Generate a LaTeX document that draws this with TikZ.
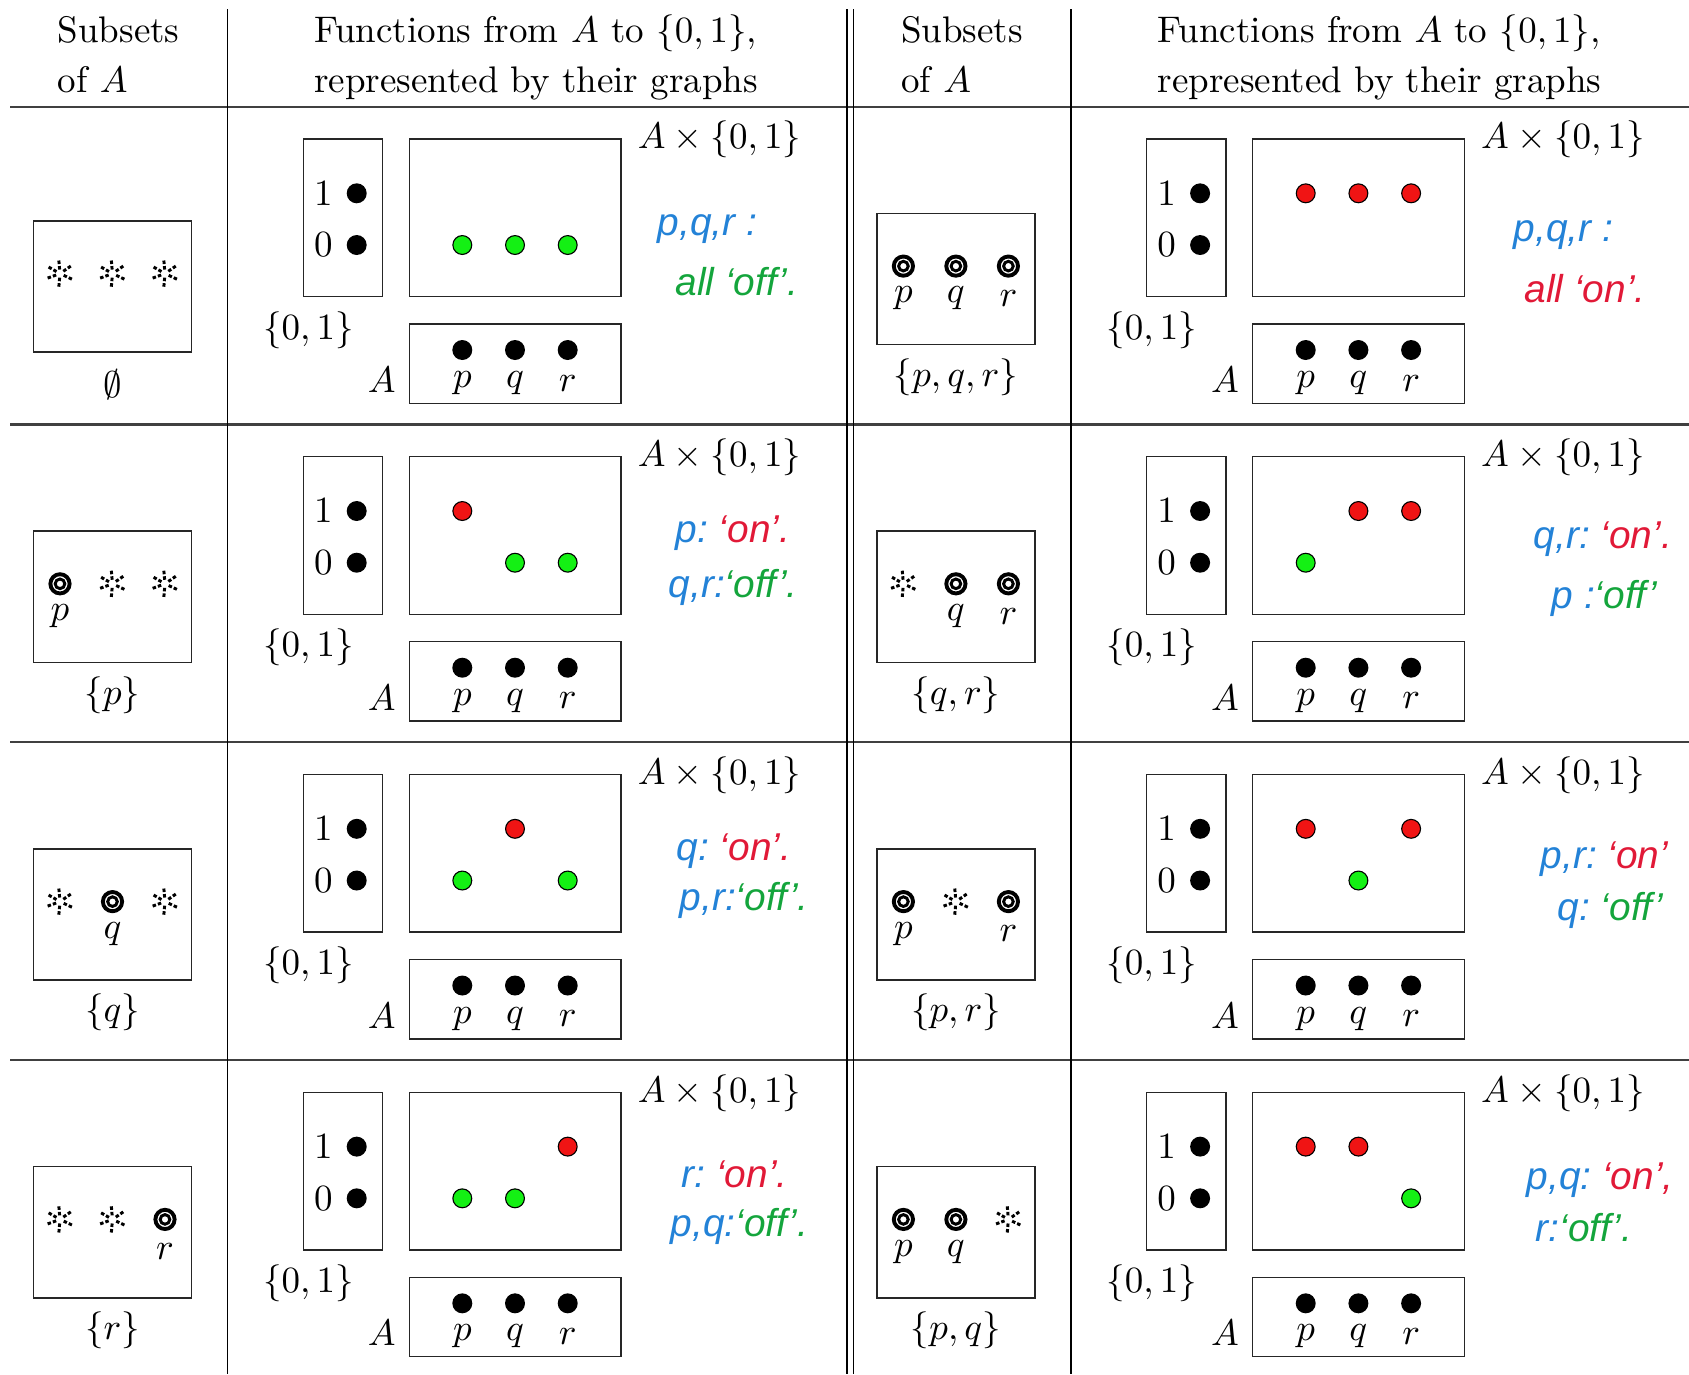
\documentclass[tikz,border=0pt]{standalone}
\usepackage{fontspec}
\newfontfamily\handfont{Liberation Sans}
\definecolor{hblue}{RGB}{35,130,215}
\definecolor{hgreen}{RGB}{20,165,60}
\definecolor{hred}{RGB}{225,25,55}
\definecolor{dotgreen}{RGB}{20,240,20}
\definecolor{dotred}{RGB}{240,20,20}
\tikzset{
  box/.style={draw=black!85, line width=0.42pt},
  hrule/.style={draw=black!75, line width=0.65pt},
  vrule/.style={draw=black, line width=0.43pt},
  lbl/.style={font=\fontsize{10}{13.5}\selectfont, inner sep=0pt},
  bdot/.style={circle, fill=black, inner sep=0pt, minimum size=5.4pt},
  gdot/.style={circle, fill=dotgreen, draw=black, line width=0.3pt, inner sep=0pt, minimum size=5.1pt},
  rdot/.style={circle, fill=dotred, draw=black, line width=0.3pt, inner sep=0pt, minimum size=5.1pt},
  ring/.style={circle, draw=black, line width=1.05pt, inner sep=0pt, minimum size=5.2pt},
  burst/.style={line width=0.8pt, dash pattern=on 0.95pt off 0.55pt},
  hand/.style={font=\handfont\itshape\fontsize{10.5}{12}\selectfont, inner sep=0pt, anchor=west}
}
\newcommand\GraphDot[3]{% name, x, value
  \ifnum#3=1
    \node[rdot] (#1) at (#2,86.6) {};
  \else
    \node[gdot] (#1) at (#2,138.3) {};
  \fi}
\newcommand\FunCell[6]{% prefix, x0, y0, p, q, r
  \begin{scope}[shift={(#2,#3)}]
    \draw[box] (76,32.3) rectangle (155.4,190);
    \node[lbl] (#1one) at (96,86.6) {$1$};
    \node[lbl] (#1zero) at (96,138.3) {$0$};
    \node[bdot] (#1dA) at (129.4,86.6) {};
    \node[bdot] (#1dB) at (129.4,138.3) {};
    \node[lbl] (#1B) at (81,223.3) {$\{0,1\}$};
    \draw[box] (182,32.3) rectangle (393.7,190);
    \node[lbl,anchor=west] (#1AB) at (409.7,33) {$A\times\{0,1\}$};
    \draw[box] (182,217.3) rectangle (393.7,296.6);
    \node[lbl] (#1A) at (154.4,273.3) {$A$};
    \node[bdot] (#1ap) at (235,243.3) {};
    \node[bdot] (#1aq) at (287.7,243.3) {};
    \node[bdot] (#1ar) at (340.4,243.3) {};
    \node[lbl] (#1lp) at (235,276.6) {$p$};
    \node[lbl] (#1lq) at (287.7,276.6) {$q$};
    \node[lbl] (#1lr) at (340.4,276.6) {$r$};
    \GraphDot{#1gp}{235}{#4}
    \GraphDot{#1gq}{287.7}{#5}
    \GraphDot{#1gr}{340.4}{#6}
  \end{scope}}
\newcommand\SubElem[4]{% name, x, state, letter
  \ifnum#3=1
    \node[ring] (#1) at (#2,159.4) {};
    \draw[line width=0.8pt] (#1.center) circle[radius=1.3pt];
    \node[lbl] (#1l) at (#2,191.8) {$#4$};
  \else
    \coordinate (#1) at (#2,159.4);
    \foreach \a in {150,95,35,-25,-95,-160}
      \draw[burst] (#2,159.4) ++(\a:1.1pt) -- ++(\a:2.6pt);
  \fi}
\newcommand\SubCell[8]{% prefix, x0, y0, p, q, r, label, dy
  \begin{scope}[shift={(#2,#3+#8)}]
    \draw[box] (33.4,106.6) rectangle (191.7,238);
    \SubElem{#1p}{60}{#4}{p}
    \SubElem{#1q}{112.5}{#5}{q}
    \SubElem{#1r}{165}{#6}{r}
    \node[lbl] (#1set) at (112.5,270.4) {#7};
  \end{scope}}
\begin{document}
\begin{tikzpicture}[x=0.2703pt,y=-0.2703pt]
\useasboundingbox (0,0) rectangle (1689,1374);
\clip (0,0) rectangle (1689,1374);
\foreach \yy in {106.7,424.4,742.2,1060.0} \draw[hrule] (10,\yy) -- (1689,\yy);
\foreach \xx in {227.3,846.7,853.3,1070.7} \draw[vrule] (\xx,9) -- (\xx,1374);
% headers
\node[lbl,anchor=base west] (hL1) at (57,42) {Subsets};
\node[lbl,anchor=base west] (hL2) at (57,92) {of $A$};
\node[lbl,anchor=base west] (hL3) at (313.5,42) {Functions from $A$ to $\{0,1\}$,};
\node[lbl,anchor=base west] (hL4) at (313.5,92) {represented by their graphs};
\node[lbl,anchor=base west] (hR1) at (900.5,42) {Subsets};
\node[lbl,anchor=base west] (hR2) at (900.5,92) {of $A$};
\node[lbl,anchor=base west] (hR3) at (1157,42) {Functions from $A$ to $\{0,1\}$,};
\node[lbl,anchor=base west] (hR4) at (1157,92) {represented by their graphs};
% function cells
\FunCell{La}{227.3}{106.7}{0}{0}{0}
\FunCell{Lb}{227.3}{424.4}{1}{0}{0}
\FunCell{Lc}{227.3}{742.2}{0}{1}{0}
\FunCell{Ld}{227.3}{1060}{0}{0}{1}
\FunCell{Ra}{1070.7}{106.7}{1}{1}{1}
\FunCell{Rb}{1070.7}{424.4}{0}{1}{1}
\FunCell{Rc}{1070.7}{742.2}{1}{0}{1}
\FunCell{Rd}{1070.7}{1060}{1}{1}{0}
% subset cells
\SubCell{SLa}{0}{106.7}{0}{0}{0}{$\emptyset$}{7.5}
\SubCell{SLb}{0}{424.4}{1}{0}{0}{$\{p\}$}{0}
\SubCell{SLc}{0}{742.2}{0}{1}{0}{$\{q\}$}{0}
\SubCell{SLd}{0}{1060}{0}{0}{1}{$\{r\}$}{0}
\SubCell{SRa}{843.4}{106.7}{1}{1}{1}{$\{p,q,r\}$}{0}
\SubCell{SRb}{843.4}{424.4}{0}{1}{1}{$\{q,r\}$}{0}
\SubCell{SRc}{843.4}{742.2}{1}{0}{1}{$\{p,r\}$}{0}
\SubCell{SRd}{843.4}{1060}{1}{1}{0}{$\{p,q\}$}{0}
% handwritten notes
\node[hand] (nLa1) at (657,229) {\textcolor{hblue}{p,q,r :}};
\node[hand] (nLa2) at (675,282) {\textcolor{hgreen}{all ‘off’.}};
\node[hand] (nRa1) at (1513,235) {\textcolor{hblue}{p,q,r :}};
\node[hand] (nRa2) at (1524,289) {\textcolor{hred}{all ‘on’.}};
\node[hand] (nLb1) at (675,533) {\textcolor{hblue}{p:}\ \textcolor{hred}{‘on’.}};
\node[hand] (nLb2) at (668,587) {\textcolor{hblue}{q,r:}\textcolor{hgreen}{‘off’.}};
\node[hand] (nRb1) at (1533,539) {\textcolor{hblue}{q,r:}\ \textcolor{hred}{‘on’.}};
\node[hand] (nRb2) at (1551,598) {\textcolor{hblue}{p :}\textcolor{hgreen}{‘off’}};
\node[hand] (nLc1) at (676,851) {\textcolor{hblue}{q:}\ \textcolor{hred}{‘on’.}};
\node[hand] (nLc2) at (679,900) {\textcolor{hblue}{p,r:}\textcolor{hgreen}{‘off’.}};
\node[hand] (nRc1) at (1540,859) {\textcolor{hblue}{p,r:}\ \textcolor{hred}{‘on’}};
\node[hand] (nRc2) at (1557,910) {\textcolor{hblue}{q:}\ \textcolor{hgreen}{‘off’}};
\node[hand] (nLd1) at (681,1174) {\textcolor{hblue}{r:}\ \textcolor{hred}{‘on’.}};
\node[hand] (nLd2) at (670,1226) {\textcolor{hblue}{p,q:}\textcolor{hgreen}{‘off’.}};
\node[hand] (nRd1) at (1526,1180) {\textcolor{hblue}{p,q:}\ \textcolor{hred}{‘on’,}};
\node[hand] (nRd2) at (1535,1228) {\textcolor{hblue}{r:}\textcolor{hgreen}{‘off’.}};
\end{tikzpicture}
\end{document}
